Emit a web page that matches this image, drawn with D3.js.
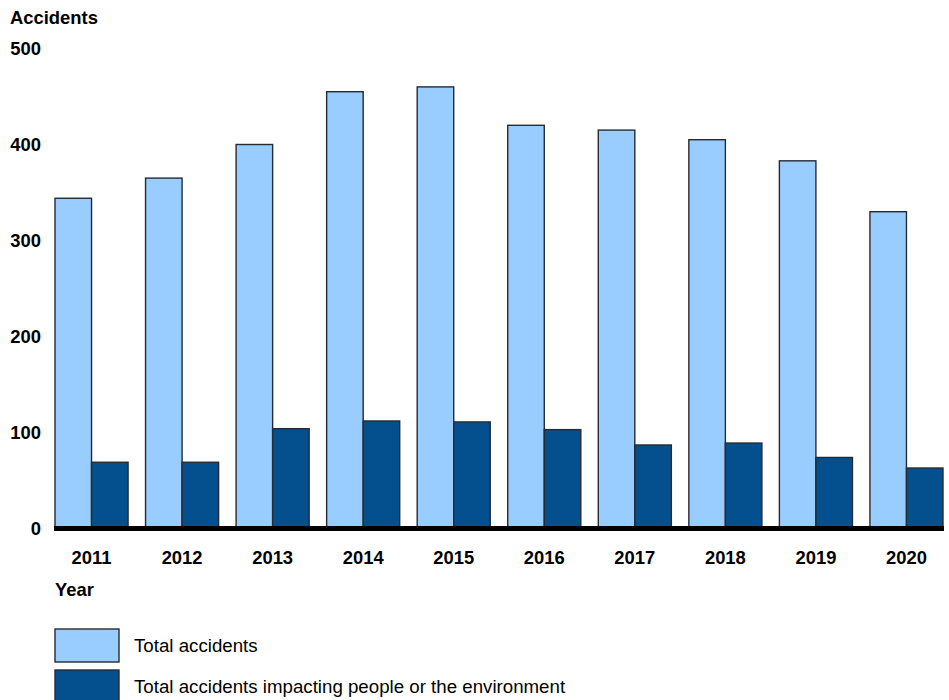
<!DOCTYPE html>
<html>
<head>
<meta charset="utf-8">
<script src="https://cdn.jsdelivr.net/npm/d3@7"></script>
<style>
  body { margin: 0; background: #fff; }
  svg { display: block; font-family: "Liberation Sans", Arial, sans-serif; }
</style>
</head>
<body>
<div id="chart"></div>
<script>
const years = ["2011", "2012", "2013", "2014", "2015", "2016", "2017", "2018", "2019", "2020"];
const totalAccidents = [344, 365, 400, 455, 460, 420, 415, 405, 383, 330];
const impactingAccidents = [69, 69, 104, 112, 111, 103, 87, 89, 74, 63];
const yTicks = [0, 100, 200, 300, 400, 500];

const seriesNames = ["Total accidents", "Total accidents impacting people or the environment"];
const seriesColors = ["#99ccff", "#044f8e"];

const chartSize = {
  width: 949,
  height: 700,
  margin: { top: 48.5, right: 6, bottom: 171.5, left: 55 },
};

const svg = d3.select("#chart")
  .append("svg")
  .attr("width", chartSize.width)
  .attr("height", chartSize.height);

const x = d3.scaleBand()
  .domain(years)
  .range([chartSize.margin.left, chartSize.width - chartSize.margin.right])
  .paddingInner(0.193)
  .paddingOuter(0);

const xSeries = d3.scaleBand()
  .domain(d3.range(seriesNames.length))
  .range([0, x.bandwidth()]);

const y = d3.scaleLinear()
  .domain([0, 500])
  .range([chartSize.height - chartSize.margin.bottom, chartSize.margin.top]);

const seriesValues = [totalAccidents, impactingAccidents];

// bars
seriesValues.forEach((values, s) => {
  svg.append("g")
    .selectAll("rect")
    .data(values)
    .join("rect")
    .attr("x", (d, i) => x(years[i]) + xSeries(s))
    .attr("y", d => y(d))
    .attr("width", xSeries.bandwidth())
    .attr("height", d => y(0) - y(d))
    .attr("fill", seriesColors[s])
    .attr("stroke", "#262b33")
    .attr("stroke-width", 1.4);
});

// y axis labels only
svg.append("g")
  .attr("transform", "translate(41,0)")
  .call(d3.axisLeft(y).tickValues(yTicks).tickSize(0).tickPadding(0))
  .call(g => g.select(".domain").remove())
  .call(g => g.selectAll("text")
    .attr("font-family", "Liberation Sans, Arial, sans-serif")
    .attr("font-size", 18.4)
    .attr("font-weight", "bold")
    .attr("fill", "#000"));

// x axis
svg.append("g")
  .attr("transform", `translate(0,${y(0)})`)
  .call(d3.axisBottom(x).tickSize(0).tickPadding(22))
  .call(g => g.select(".domain")
    .attr("stroke", "#000")
    .attr("stroke-width", 5)
    .attr("d", `M${chartSize.margin.left - 1},0H${chartSize.width - chartSize.margin.right + 1}`))
  .call(g => g.selectAll("text")
    .attr("font-family", "Liberation Sans, Arial, sans-serif")
    .attr("font-size", 18.4)
    .attr("font-weight", "bold")
    .attr("fill", "#000"));

// titles
svg.append("text")
  .attr("x", 10)
  .attr("y", 24)
  .attr("font-size", 18.4)
  .attr("font-weight", "bold")
  .text("Accidents");

svg.append("text")
  .attr("x", 55)
  .attr("y", 596)
  .attr("font-size", 18.4)
  .attr("font-weight", "bold")
  .text("Year");

// legend
const legend = svg.append("g")
  .selectAll("g")
  .data(seriesNames)
  .join("g")
  .attr("transform", (d, i) => `translate(55,${629 + i * 41})`);

legend.append("rect")
  .attr("width", 64)
  .attr("height", 33)
  .attr("fill", (d, i) => seriesColors[i])
  .attr("stroke", "#262b33")
  .attr("stroke-width", 1.4);

legend.append("text")
  .attr("x", 79)
  .attr("y", 16.5)
  .attr("dy", "0.35em")
  .attr("font-size", 18.7)
  .text(d => d);
</script>
</body>
</html>
